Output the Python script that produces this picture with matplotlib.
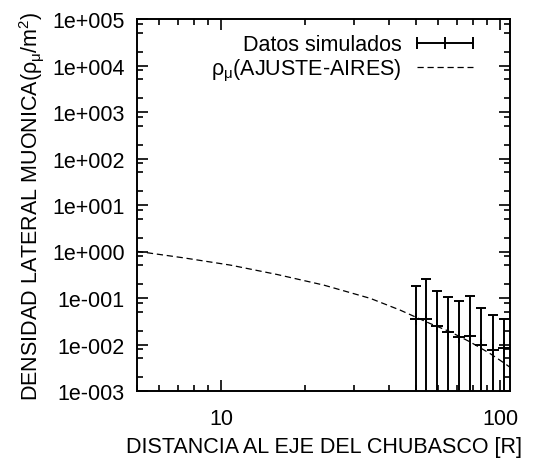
import numpy as np
import matplotlib
matplotlib.use('Agg')
import matplotlib.pyplot as plt
from matplotlib.lines import Line2D
from matplotlib.legend_handler import HandlerBase
from matplotlib.ticker import FixedLocator, NullFormatter

plt.rcParams['font.family'] = ['Liberation Sans', 'DejaVu Sans']
plt.rcParams['mathtext.fontset'] = 'custom'
plt.rcParams['mathtext.rm'] = 'Liberation Sans'
plt.rcParams['mathtext.it'] = 'Liberation Sans'
plt.rcParams['mathtext.bf'] = 'Liberation Sans:bold'

# simulated data (distance, density, error)
dist = [50.0, 54.3, 59.4, 64.9, 71.2, 78.0, 85.5, 94.2, 103.3]
dens = [0.0345, 0.0362, 0.0250, 0.0185, 0.0142, 0.0154, 0.0097, 0.0078, 0.0085]
dens_err = [0.1485, 0.2138, 0.1150, 0.0875, 0.0708, 0.0936, 0.0518, 0.0362, 0.0275]

# fitted curve (AIRES)
fit_x = [5.0, 7.35, 10.8, 15.9, 23.3, 34.3, 43.8, 50.5, 56.1, 66.2, 78.0, 92.0, 104.0, 108.0]
fit_y = [1.01, 0.73, 0.51, 0.32, 0.19, 0.098, 0.055, 0.0375, 0.0283, 0.0188, 0.0114, 0.0064, 0.0039, 0.0033]

y_ticks = [1e-3, 1e-2, 1e-1, 1e0, 1e1, 1e2, 1e3, 1e4, 1e5]
y_tick_labels = ['1e-003', '1e-002', '1e-001', '1e+000', '1e+001',
                 '1e+002', '1e+003', '1e+004', '1e+005']
x_ticks = [10, 100]
x_tick_labels = ['10', '100']

FS = 15.5


class HandlerGnuErr(HandlerBase):
    # gnuplot-style errorbar key: |---+---|
    def create_artists(self, legend, orig_handle, xdescent, ydescent,
                       width, height, fontsize, trans):
        y = (height - ydescent) / 2.0
        x0, x1 = -xdescent, -xdescent + width
        line = Line2D([x0, x1], [y, y], color='black', lw=1.4, transform=trans)
        caps = Line2D([x0, x1], [y, y], color='black', lw=0, marker='|',
                      markersize=8, markeredgewidth=1.4, transform=trans)
        mid = Line2D([(x0 + x1) / 2], [y], color='black', lw=0, marker='|',
                     markersize=8, markeredgewidth=1.4, transform=trans)
        return [line, caps, mid]


fig = plt.figure(figsize=(5.6, 4.64), dpi=100)
ax = fig.add_axes([137 / 560, 1 - 392 / 464, 373 / 560, 372 / 464])
ax.set_xscale('log')
ax.set_yscale('log')

ax.errorbar(dist, dens, yerr=dens_err, fmt='none', ecolor='black',
            elinewidth=1.4, capsize=3.5, capthick=1.4)
ax.plot(dist, dens, linestyle='none', marker='+', color='black',
        markersize=8, markeredgewidth=1.4)
ax.plot(fit_x, fit_y, color='black', linestyle=(0, (5, 3)), linewidth=0.9)

ax.set_xlim(5, 108.5)
ax.set_ylim(1e-3, 1e5)

ax.xaxis.set_major_locator(FixedLocator(x_ticks))
ax.set_xticklabels(x_tick_labels)
ax.xaxis.set_minor_locator(FixedLocator([5, 6, 7, 8, 9, 20, 30, 40, 50, 60, 70, 80, 90]))
ax.xaxis.set_minor_formatter(NullFormatter())
ax.yaxis.set_major_locator(FixedLocator(y_ticks))
ax.set_yticklabels(y_tick_labels)
ymin = [m * 10.0 ** e for e in range(-3, 5) for m in (2, 5, 8)]
ax.yaxis.set_minor_locator(FixedLocator(ymin))
ax.yaxis.set_minor_formatter(NullFormatter())

ax.tick_params(which='both', direction='in', top=True, right=True,
               labelsize=FS, width=1.2)
ax.tick_params(which='major', length=8)
ax.tick_params(which='minor', length=4)
ax.tick_params(axis='x', pad=12)
ax.tick_params(axis='y', pad=9)
for s in ax.spines.values():
    s.set_linewidth(1.4)

ax.set_xlabel('DISTANCIA AL EJE DEL CHUBASCO [R]', fontsize=FS, labelpad=5)
ax.set_ylabel(r'DENSIDAD LATERAL MUONICA($\rho_{\mu}$/m$^{2}$)', fontsize=FS, labelpad=4)

proxy = Line2D([], [], color='black')
dash = Line2D([], [], color='black', linestyle=(0, (5, 3)), linewidth=0.9)
leg = ax.legend([proxy, dash], ['Datos simulados', r'$\rho_{\mu}$(AJUSTE-AIRES)'],
                handler_map={proxy: HandlerGnuErr()}, loc='upper right',
                frameon=False, fontsize=FS, markerfirst=False,
                handlelength=2.6, handletextpad=0.7, labelspacing=0.1,
                borderaxespad=0.3, bbox_to_anchor=(0.94, 1.0))
for t in leg.get_texts():
    t.set_ha('right')

fig.savefig('out.png', dpi=100)
